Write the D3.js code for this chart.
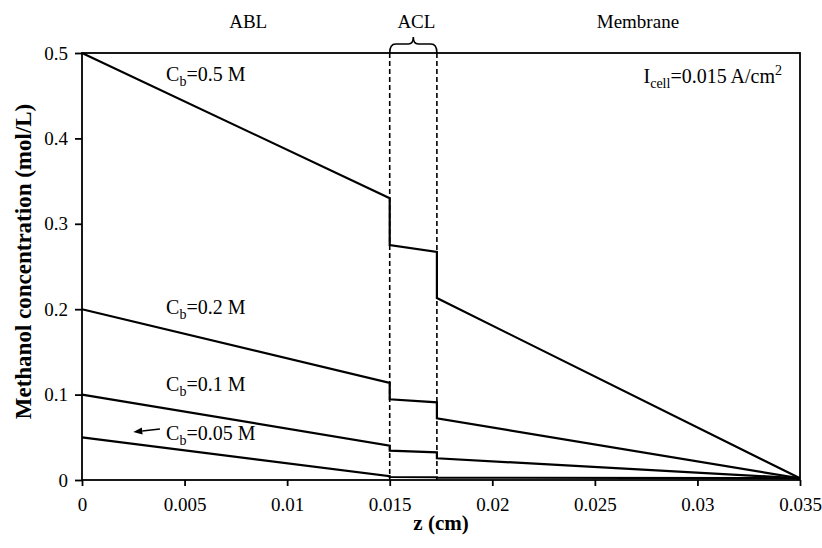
<!DOCTYPE html>
<html>
<head>
<meta charset="utf-8">
<script src="https://cdn.jsdelivr.net/npm/d3@7"></script>
<style>
  body { margin: 0; background: #fff; }
  svg text { font-family: "Liberation Serif", "Times New Roman", serif; fill: #000; }
</style>
</head>
<body>
<svg id="svg" width="822" height="548"></svg>
<script>
// Data
const zPoints = [0, 0.015, 0.015, 0.0173, 0.0173, 0.035];
const conc05 = [0.5, 0.330, 0.275, 0.267, 0.213, 0.002];
const conc02 = [0.2, 0.1136, 0.0945, 0.091, 0.0722, 0.002];
const conc01 = [0.1, 0.0402, 0.0343, 0.0324, 0.0254, 0.002];
const conc005 = [0.05, 0.0045, 0.0035, 0.0032, 0.0028, 0.002];
const seriesLabels = ["0.5 M", "0.2 M", "0.1 M", "0.05 M"];
const xTicks = [0, 0.005, 0.01, 0.015, 0.02, 0.025, 0.03, 0.035];
const yTicks = [0, 0.1, 0.2, 0.3, 0.4, 0.5];
const regionBounds = [0.015, 0.0173];
const regionNames = ["ABL", "ACL", "Membrane"];

const margin = {top: 53, right: 22, bottom: 68, left: 82};
const width = 822, height = 548;

const svg = d3.select("#svg");

const x = d3.scaleLinear().domain([0, 0.035]).range([margin.left, width - margin.right]);
const y = d3.scaleLinear().domain([0, 0.5]).range([height - margin.bottom, margin.top]);

// Frame
svg.append("rect")
    .attr("x", x(0)).attr("y", y(0.5))
    .attr("width", x(0.035) - x(0)).attr("height", y(0) - y(0.5))
    .attr("fill", "none").attr("stroke", "#000").attr("stroke-width", 1.8);

// Axes
const fmt = d => d === 0 ? "0" : String(+d.toFixed(3));

svg.append("g")
    .attr("transform", `translate(0,${y(0)})`)
    .call(d3.axisBottom(x).tickValues(xTicks).tickFormat(fmt).tickSize(6).tickPadding(12))
    .call(g => g.select(".domain").remove())
    .call(g => g.selectAll("line").attr("stroke-width", 1.8))
    .call(g => g.selectAll("text").style("font-size", "19px").style("font-family", "Liberation Serif"));

svg.append("g")
    .attr("transform", `translate(${x(0)},0)`)
    .call(d3.axisLeft(y).tickValues(yTicks).tickFormat(fmt).tickSize(7).tickPadding(7))
    .call(g => g.select(".domain").remove())
    .call(g => g.selectAll("line").attr("stroke-width", 1.8))
    .call(g => g.selectAll("text").style("font-size", "19px").style("font-family", "Liberation Serif"));

// Axis titles
svg.append("text")
    .attr("x", (x(0) + x(0.035)) / 2).attr("y", 530)
    .attr("text-anchor", "middle")
    .style("font-size", "21px").style("font-weight", "bold")
    .text("z (cm)");

svg.append("text")
    .attr("transform", `translate(31,${(y(0) + y(0.5)) / 2 - 5}) rotate(-90)`)
    .attr("text-anchor", "middle")
    .style("font-size", "23px").style("font-weight", "bold")
    .text("Methanol concentration (mol/L)");

// Dashed region boundaries
svg.selectAll(".bound")
    .data(regionBounds)
    .join("line")
    .attr("class", "bound")
    .attr("x1", d => x(d)).attr("x2", d => x(d))
    .attr("y1", y(0.5)).attr("y2", y(0))
    .attr("stroke", "#000").attr("stroke-width", 1.6)
    .attr("stroke-dasharray", "5,3");

// Brace above ACL
const bx0 = x(regionBounds[0]), bx1 = x(regionBounds[1]), bm = (bx0 + bx1) / 2;
const by = y(0.5), bh = by - 9, bt = by - 16;
svg.append("path")
    .attr("d", `M${bx0},${by} Q${bx0},${bh} ${bx0 + 6},${bh} L${bm - 5},${bh} Q${bm},${bh} ${bm},${bt}
               Q${bm},${bh} ${bm + 5},${bh} L${bx1 - 6},${bh} Q${bx1},${bh} ${bx1},${by}`)
    .attr("fill", "none").attr("stroke", "#000").attr("stroke-width", 1.6);

// Region names
const regionX = [x(0.0081), x(0.0163), x(0.0271)];
svg.selectAll(".region")
    .data(regionNames)
    .join("text")
    .attr("class", "region")
    .attr("x", (d, i) => regionX[i]).attr("y", 28)
    .attr("text-anchor", "middle")
    .style("font-size", "19px")
    .text(d => d);

// Curves
const allSeries = [conc05, conc02, conc01, conc005];
const line = d3.line().x((d, i) => x(zPoints[i])).y(d => y(d));
svg.selectAll(".curve")
    .data(allSeries)
    .join("path")
    .attr("class", "curve")
    .attr("d", line)
    .attr("fill", "none").attr("stroke", "#000").attr("stroke-width", 2.2)
    .attr("stroke-linejoin", "miter");

// Curve labels
const labelPos = [[0.0041, 0.467], [0.0041, 0.194], [0.0041, 0.104], [0.0041, 0.047]];
const labels = svg.selectAll(".clabel")
    .data(seriesLabels)
    .join("text")
    .attr("class", "clabel")
    .attr("x", (d, i) => x(labelPos[i][0])).attr("y", (d, i) => y(labelPos[i][1]))
    .style("font-size", "20px");
labels.append("tspan").text("C");
labels.append("tspan").attr("dy", 5).style("font-size", "14px").text("b");
labels.append("tspan").attr("dy", -5).text(d => "=" + d);

// Arrow to the 0.05 M curve
const ax0 = x(0.0038), ay0 = y(0.0597), ax1 = x(0.0025), ay1 = y(0.0563);
const ang = Math.atan2(ay1 - ay0, ax1 - ax0);
const headLen = 9, headW = 3.5;
const hx = ax1 - headLen * Math.cos(ang), hy = ay1 - headLen * Math.sin(ang);
svg.append("line")
    .attr("x1", ax0).attr("y1", ay0)
    .attr("x2", hx).attr("y2", hy)
    .attr("stroke", "#000").attr("stroke-width", 1.5);
svg.append("path")
    .attr("d", `M${ax1},${ay1} L${hx - headW * Math.sin(ang)},${hy + headW * Math.cos(ang)}
               L${hx + headW * Math.sin(ang)},${hy - headW * Math.cos(ang)} Z`)
    .attr("fill", "#000");

// Current density label
const ic = svg.append("text")
    .attr("x", 782).attr("y", 83)
    .attr("text-anchor", "end")
    .style("font-size", "20px");
ic.append("tspan").text("I");
ic.append("tspan").attr("dy", 5).style("font-size", "14px").text("cell");
ic.append("tspan").attr("dy", -5).text("=0.015 A/cm");
ic.append("tspan").attr("dy", -8).style("font-size", "14px").text("2");
</script>
</body>
</html>
